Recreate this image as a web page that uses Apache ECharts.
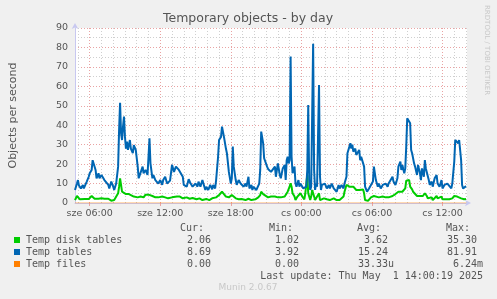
<!DOCTYPE html>
<html><head><meta charset="utf-8">
<script src="https://cdn.jsdelivr.net/npm/echarts@6/dist/echarts.min.js"></script>
<style>html,body{margin:0;padding:0;background:#f0f0f0;}#c{width:497px;height:299px;}</style>
</head><body><div id="c"></div>
<script>
// time base: samples every 5 minutes starting sze (Wed) 04:45
const startMinute = 285;
const stepMinutes = 5;
const spanSteps = 400;
const tickMinutes = [360, 720, 1080, 1440, 1800, 2160];
const tickLabels = ['sze 06:00', 'sze 12:00', 'sze 18:00', 'cs 00:00', 'cs 06:00', 'cs 12:00'];
const yTicks = [0, 10, 20, 30, 40, 50, 60, 70, 80, 90];

const diskSteps = [0,2,4,5,7,10,14,15,17,19,20,22,24,27,30,34,35,37,39,40,42,44,45,46,48,49,50,52,54,55,57,60,64,65,67,69,70,72,74,75,77,79,80,82,84,85,87,89,90,92,94,95,97,99,100,104,107,109,110,114,117,120,124,127,130,134,137,140,144,147,150,152,154,155,157,159,160,162,164,167,169,170,174,177,180,184,185,187,189,190,192,194,197,200,202,204,205,207,209,210,212,214,215,217,219,220,221,222,224,225,227,229,230,232,234,235,237,238,240,241,242,244,245,247,249,250,252,254,257,260,264,265,267,269,270,272,274,275,277,278,280,281,282,284,285,287,289,290,292,294,295,296,299,300,302,304,305,307,310,314,317,320,324,325,327,329,330,332,334,335,337,338,340,341,342,344,345,347,349,350,352,354,355,357,359,360,362,364,365,367,369,370,372,374,375,377,379,380,382,384,385,387,389,390,392,394,395,397,399];
const diskValues = [1.5,3.6,2.9,1.9,2,2,2,2,3.6,2.9,2.2,2.6,2.2,2.4,2.2,2.2,1.5,1.2,2.2,1.5,2.4,5,8.4,12.7,5.8,6.7,5.8,4.6,4.1,4.6,3.6,3.3,2.9,2.6,3.3,3.6,2.9,4.3,3.6,4.3,3.3,3.6,4.6,2.9,3.6,2.9,2.4,3.3,2.4,2.9,3.3,2.4,3.3,2.9,3.3,3.3,3.3,2.9,2.4,2.9,2.2,2.6,1.9,2.4,1.5,2.1,1.5,2.4,2.9,4.1,5.8,4.6,3.3,2.4,2.9,2.4,4.1,3.3,2.4,1.9,2.4,2.1,1.5,2.2,1.5,1.9,1.5,2.9,4.1,5.8,4.6,3.6,2.9,3.3,2.9,3.3,2.4,2.9,1.9,2.9,2.4,3.3,4.1,5.8,8.4,10.1,8.4,5,3.3,1.5,3.3,2.4,5,3.3,1.9,5,14.4,5,1.5,3.3,6.7,3.3,1.5,2.4,5,1.5,1.5,2.4,1.9,1.5,2.4,1.5,1.5,2.4,1.5,2.4,3.3,5.8,9.3,9.3,8.4,7.5,7.5,8.4,7.5,6.7,7,6.7,7,7,5,1.5,1.1,1.5,2.9,3.3,3.6,3.3,2.9,3.3,2.9,2.9,3.6,3.3,4.6,5,5.8,5.3,5.8,6.7,7.5,11.5,12.2,11.8,8.4,7,5.8,5,3.6,4.1,3.6,4.6,3.6,5,3.6,2.4,1.9,2.9,1.5,2.4,3.6,2.4,1.9,3.3,1.9,2.4,1.9,2.4,1.9,1.5,2.4,3.6,4.1,3.3,3.6,2.4,1.9,1.9,2.06];

const tableSteps = [0,2,3,4,5,6,8,9,10,12,14,15,17,18,19,21,22,24,25,27,29,30,32,34,35,37,39,40,42,44,45,46,47,48,49,50,51,52,53,54,56,57,59,60,62,64,65,67,69,70,72,74,75,76,77,79,80,82,84,85,87,89,90,92,94,95,97,99,100,101,103,105,106,108,110,111,113,114,116,118,120,121,123,125,126,128,130,132,133,134,136,138,140,141,143,144,146,147,149,150,151,152,154,155,157,159,160,161,162,164,165,167,169,170,172,174,175,177,178,180,181,182,184,185,186,188,189,190,192,193,194,196,197,199,200,202,204,205,207,209,210,212,214,215,216,217,218,219,220,221,222,224,225,226,228,229,230,232,233,234,236,237,238,239,240,241,242,243,244,245,246,247,248,249,250,251,252,254,255,257,259,260,262,264,265,267,269,270,272,274,275,277,278,280,281,282,283,284,286,287,288,290,291,292,294,295,296,298,300,302,304,305,307,309,310,312,314,315,317,319,320,322,324,325,327,329,330,332,333,334,336,337,338,339,340,342,343,344,346,347,349,350,352,353,354,356,357,358,360,361,362,364,365,367,369,370,372,374,375,377,379,380,382,384,385,387,388,390,391,392,394,395,396,398,399];
const tableValues = [6.7,10,11.8,9,8.5,7.5,9.3,7.5,8.4,11,13.5,15.3,17,22,23,17,12.7,15.3,12.7,14.4,14.4,11.8,12.7,9.3,7.5,11,8.4,6.7,10,18.7,37.6,51.5,35.8,32.4,39.3,44.4,34,28,31.6,27.3,32.4,28,25.6,29.8,27.3,18.7,12.7,13.5,18.7,15.3,17,14.4,23.8,33.3,20.4,12.7,14.4,11.8,12.7,10,11.8,9.3,11.8,13.5,10,9.3,11.5,19.6,20,16,18.7,19,17,17.8,13.5,9.3,10,8.4,12.2,10,8.4,7.5,10,8.4,11,8.4,11.8,8.4,6.7,8.4,6.7,9.3,7,9.3,7.5,11.8,23.8,32.4,34,39.3,40,34,28,25.6,16,10,12.7,29,18.7,11.8,9.3,11.8,10,11,8.4,10,8.4,13.5,7.5,9.3,6.7,8.4,7.5,6.7,5.8,10,17,36.7,30.7,23,22,18.7,17.5,17.5,16,15,18.7,13.5,20.4,14.4,12.7,17.8,19.6,11.8,22,23.8,20.4,22,75.3,23.8,15.3,18.7,10,8.4,11.8,8.4,10,9.3,7.5,6.7,8.4,17,50.4,11.8,6.7,8.4,9,81.9,17,6.7,10,8.4,9,60.7,13.5,6.7,9.3,8.4,10,7.5,9.3,7.5,10,7.5,8.4,5.8,9.3,7.5,9.3,7.5,10,13.5,25.6,26.4,30.7,28,30,26.4,28,24.7,23.8,27.3,22,23.8,24.7,18.7,8.4,5.8,7.5,7.5,11,18.7,11.8,8.4,10,7.5,9.3,8.4,10,8.4,10,9.3,13.5,11,9.3,12.7,18.7,21.3,17,19.6,15.3,17.8,29,43.6,44.4,41,27.3,25.6,20.4,18.7,14.4,19.6,15.3,11.8,17.8,13.5,22.1,17.8,18.7,11.8,9.3,11,8.4,12.7,14.4,10,8.4,11.8,7.5,9.3,8.4,10,9.3,7.5,10,21.3,32.4,32.4,30.7,32.4,22.1,9.3,7.5,8.4,8.69];

const fileSteps = [0, 100, 200, 300, 399];
const fileValues = [0, 0, 0, 0, 0];

const seriesNames = ['Temp disk tables', 'Temp tables', 'Temp files'];
const seriesColors = ['#00cc00', '#0066b3', '#ff8000'];
const statHeaders = ['Cur:', 'Min:', 'Avg:', 'Max:'];
const statCur = ['2.06', '8.69', '0.00'];
const statMin = ['1.02', '3.92', '0.00'];
const statAvg = ['3.62', '15.24', '33.33u'];
const statMax = ['35.30', '81.91', '6.24m'];
const lastUpdate = 'Last update: Thu May  1 14:00:19 2025';

const toPoints = (steps, vals) => steps.map((s, i) => [startMinute + s * stepMinutes, vals[i]]);
const endMinute = startMinute + spanSteps * stepMinutes;
const hourMarks = [];
for (let m = 300; m < endMinute; m += 60) if (tickMinutes.indexOf(m) < 0) hourMarks.push(m);

const MONO = '10px "DejaVu Sans Mono", monospace';
const TXT = '#555555';
const MAJOR = '#e9a3a3';
const MINOR = '#cfcfcf';
const graphics = [];
function txt(text, x, y, align, font, fill, extra) {
  graphics.push(Object.assign({
    type: 'text', x: x, y: y, silent: true,
    style: { text: text, x: 0, y: 0, font: font || MONO, fill: fill || TXT,
      align: align, textAlign: align, verticalAlign: 'middle', textVerticalAlign: 'middle' }
  }, extra || {}));
}
txt('Temporary objects - by day', 248, 19, 'center', '12.5px "DejaVu Sans"', TXT);
txt('RRDTOOL / TOBI OETIKER', 487, 5, 'left', '7px "DejaVu Sans"', '#c8c8c8', { rotation: -Math.PI / 2 });
const colNumRight = [211, 299, 388, 477];
const colHeadRight = [204, 293, 381, 470];
const headerY = 228;
const rowY = [240, 252, 264];
statHeaders.forEach((h, i) => txt(h, colHeadRight[i], headerY, 'right'));
const cols = [statCur, statMin, statAvg, statMax];
seriesNames.forEach((name, r) => {
  graphics.push({ type: 'rect', silent: true, shape: { x: 14, y: rowY[r] - 3, width: 6, height: 6 },
    style: { fill: seriesColors[r] } });
  txt(name, 26, rowY[r], 'left');
  cols.forEach((col, c) => {
    const m = col[r].match(/^([0-9.]+)([a-zA-Z]?)$/);
    txt(m[1], colNumRight[c], rowY[r], 'right');
    if (m[2]) txt(m[2], colNumRight[c], rowY[r], 'left');
  });
});
txt(lastUpdate, 483, 276, 'right');
txt('Munin 2.0.67', 248, 288, 'center', '9px "DejaVu Sans"', '#c8c8c8');

function vGrid(values, color) {
  return {
    type: 'line', data: [], silent: true, z: 1,
    markLine: {
      silent: true, symbol: 'none', z: 1, animation: false,
      label: { show: false },
      lineStyle: { color: color, type: [1, 2], width: 1 },
      emphasis: { disabled: true },
      data: values.map(v => ({ xAxis: v }))
    }
  };
}

const chart = echarts.init(document.getElementById('c'), null, { renderer: 'canvas' });
chart.setOption({
  animation: false,
  backgroundColor: '#f0f0f0',
  grid: { left: 67, top: 28, width: 400, height: 175, containLabel: false, show: true,
    backgroundColor: '#ffffff', borderWidth: 0 },
  xAxis: {
    type: 'value', min: startMinute, max: endMinute,
    axisLine: { show: true, onZero: true, lineStyle: { color: '#c8c8f0', width: 1 },
      symbol: ['none', 'arrow'], symbolSize: [5, 6], symbolOffset: [0, 4] },
    axisTick: { show: true, customValues: tickMinutes, length: 3, lineStyle: { color: MAJOR } },
    axisLabel: { show: true, customValues: tickMinutes, margin: 6, color: TXT,
      fontFamily: 'DejaVu Sans', fontSize: 9.5,
      formatter: v => tickLabels[tickMinutes.indexOf(v)] || '' },
    splitLine: { show: false }
  },
  yAxis: {
    type: 'value', min: 0, max: 90, interval: 10,
    name: 'Objects per second', nameLocation: 'middle', nameGap: 56, nameRotate: 90,
    nameTextStyle: { color: TXT, fontFamily: 'DejaVu Sans', fontSize: 11 },
    axisLine: { show: true, lineStyle: { color: '#c8c8f0', width: 1 },
      symbol: ['none', 'arrow'], symbolSize: [5, 6], symbolOffset: [0, 5] },
    axisTick: { show: false },
    axisLabel: { margin: 7, color: TXT, fontFamily: 'DejaVu Sans', fontSize: 9.5,
      formatter: v => yTicks.indexOf(v) >= 0 ? String(v) : '' },
    splitLine: { show: true, lineStyle: { color: MAJOR, type: [1, 2], width: 1 } },
    minorTick: { show: false, splitNumber: 2 },
    minorSplitLine: { show: true, lineStyle: { color: MINOR, type: [1, 2], width: 1 } }
  },
  series: [
    vGrid(hourMarks, MINOR),
    vGrid(tickMinutes, MAJOR),
    { name: seriesNames[0], type: 'line', z: 3, data: toPoints(diskSteps, diskValues), showSymbol: false,
      symbol: 'none', lineStyle: { color: seriesColors[0], width: 2 }, itemStyle: { color: seriesColors[0] } },
    { name: seriesNames[1], type: 'line', z: 3, data: toPoints(tableSteps, tableValues), showSymbol: false,
      symbol: 'none', lineStyle: { color: seriesColors[1], width: 2 }, itemStyle: { color: seriesColors[1] } },
    { name: seriesNames[2], type: 'line', z: 3, data: toPoints(fileSteps, fileValues), showSymbol: false,
      symbol: 'none', lineStyle: { color: seriesColors[2], width: 1, opacity: 0.6 }, itemStyle: { color: seriesColors[2] } }
  ],
  graphic: graphics
});
</script></body></html>
